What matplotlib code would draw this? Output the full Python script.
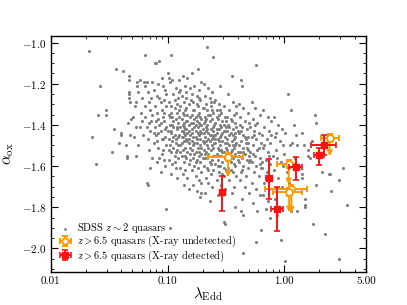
import numpy as np
import matplotlib
matplotlib.use("Agg")
import matplotlib.pyplot as plt
from matplotlib.ticker import FixedLocator, FuncFormatter, LogLocator, MultipleLocator, NullFormatter

plt.rcParams['font.family'] = 'serif'
plt.rcParams['font.serif'] = ['cmr10']
plt.rcParams['mathtext.fontset'] = 'cm'
plt.rcParams['axes.formatter.use_mathtext'] = True

# SDSS z~2 quasars: (log10 lambda_Edd, alpha_ox)
sdss_points = [
    (-1.67, -1.04), (-1.65, -1.46), (-1.61, -1.59), (-1.60, -1.35), (-1.58, -1.21), (-1.53, -1.33),
    (-1.53, -1.35), (-1.48, -1.53), (-1.46, -1.42), (-1.44, -1.13), (-1.42, -1.49), (-1.40, -1.44),
    (-1.40, -1.45), (-1.35, -1.56),
    (-1.38, -1.14), (-1.33, -1.16), (-1.33, -1.18), (-1.33, -1.24), (-1.33, -1.25), (-1.33, -1.27),
    (-1.34, -1.39), (-1.36, -1.50), (-1.35, -1.55), (-1.31, -1.37), (-1.32, -1.29), (-1.32, -1.45),
    (-1.30, -1.36),
    (-1.28, -1.31), (-1.27, -1.29), (-1.25, -1.24), (-1.26, -1.21), (-1.24, -1.18), (-1.27, -1.41),
    (-1.25, -1.50), (-1.27, -1.55), (-1.24, -1.41), (-1.23, -1.34), (-1.29, -1.46), (-1.22, -1.38),
    (-1.21, -1.45), (-1.26, -1.19), (-1.22, -1.27),
    (-1.19, -1.06), (-1.20, -1.19), (-1.19, -1.21), (-1.18, -1.19), (-1.17, -1.24), (-1.16, -1.29),
    (-1.15, -1.33), (-1.19, -1.36), (-1.18, -1.41), (-1.14, -1.38), (-1.13, -1.19), (-1.12, -1.44),
    (-1.17, -1.47), (-1.11, -1.31), (-1.16, -1.52), (-1.13, -1.56), (-1.18, -1.68), (-1.17, -1.69),
    (-1.15, -1.43), (-1.14, -1.27), (-1.12, -1.49), (-1.11, -1.10), (-1.19, -1.31), (-1.16, -1.39),
    (-1.13, -1.35), (-1.11, -1.41), (-1.15, -1.61), (-1.12, -1.23),
    (-1.10, -1.10), (-1.08, -1.20), (-1.07, -1.09), (-1.04, -1.21), (-1.09, -1.26), (-1.06, -1.29),
    (-1.02, -1.23), (-1.09, -1.34), (-1.08, -1.37), (-1.07, -1.40), (-1.05, -1.33), (-1.03, -1.38),
    (-1.01, -1.31), (-1.10, -1.45), (-1.06, -1.43), (-1.04, -1.47), (-1.02, -1.42), (-1.08, -1.51),
    (-1.05, -1.54), (-1.01, -1.50), (-1.09, -1.58), (-1.03, -1.57), (-1.06, -1.63), (-1.01, -1.81),
    (-1.07, -1.27), (-1.04, -1.36), (-1.01, -1.41), (-1.03, -1.28), (-1.05, -1.17), (-1.08, -1.44),
    (-1.02, -1.46), (-1.06, -1.39), (-1.04, -1.52), (-1.09, -1.48), (-1.01, -1.25), (-1.07, -1.56),
    (-1.03, -1.34), (-1.05, -1.47), (-1.10, -1.38), (-1.02, -1.60),
    (-0.97, -1.06), (-1.00, -1.15), (-0.99, -1.17), (-0.96, -1.18), (-0.98, -1.19), (-0.93, -1.22),
    (-0.95, -1.25), (-0.91, -1.27), (-0.99, -1.29), (-0.97, -1.31), (-0.94, -1.32), (-0.92, -1.34),
    (-0.99, -1.35), (-0.96, -1.36), (-0.93, -1.37), (-0.91, -1.39), (-0.98, -1.40), (-0.95, -1.41),
    (-0.92, -1.42), (-1.00, -1.43), (-0.97, -1.44), (-0.94, -1.45), (-0.91, -1.46), (-0.99, -1.47),
    (-0.96, -1.48), (-0.93, -1.49), (-0.98, -1.50), (-0.95, -1.51), (-0.92, -1.52), (-0.97, -1.53),
    (-0.94, -1.55), (-0.91, -1.56), (-0.99, -1.57), (-0.96, -1.59), (-0.93, -1.61), (-0.97, -1.64),
    (-0.92, -1.66), (-0.98, -1.90), (-0.94, -1.28), (-0.90, -1.33), (-0.95, -1.38), (-0.92, -1.41),
    (-0.97, -1.43), (-0.90, -1.45), (-0.93, -1.47), (-0.98, -1.36), (-0.96, -1.40), (-0.91, -1.50),
    (-0.95, -1.46), (-0.93, -1.53), (-0.99, -1.52), (-0.90, -1.24), (-0.94, -1.58), (-0.97, -1.34),
    (-0.92, -1.30),
    (-0.90, -1.18), (-0.87, -1.16), (-0.83, -1.17), (-0.85, -1.21), (-0.89, -1.23), (-0.81, -1.22),
    (-0.88, -1.26), (-0.84, -1.27), (-0.86, -1.29), (-0.82, -1.30), (-0.89, -1.31), (-0.85, -1.33),
    (-0.87, -1.34), (-0.83, -1.35), (-0.81, -1.36), (-0.88, -1.37), (-0.84, -1.38), (-0.86, -1.39),
    (-0.82, -1.40), (-0.89, -1.41), (-0.85, -1.42), (-0.87, -1.43), (-0.83, -1.44), (-0.81, -1.45),
    (-0.88, -1.46), (-0.84, -1.47), (-0.86, -1.48), (-0.82, -1.49), (-0.89, -1.50), (-0.85, -1.51),
    (-0.87, -1.52), (-0.83, -1.53), (-0.81, -1.54), (-0.88, -1.55), (-0.84, -1.56), (-0.86, -1.58),
    (-0.82, -1.59), (-0.89, -1.61), (-0.85, -1.62), (-0.87, -1.64), (-0.83, -1.66), (-0.86, -1.69),
    (-0.82, -1.71), (-0.90, -1.36), (-0.86, -1.35), (-0.84, -1.42), (-0.80, -1.39), (-0.87, -1.46),
    (-0.83, -1.48), (-0.81, -1.51), (-0.88, -1.43), (-0.85, -1.45), (-0.82, -1.43), (-0.89, -1.53),
    (-0.86, -1.41), (-0.84, -1.32), (-0.80, -1.28), (-0.87, -1.40), (-0.83, -1.38), (-0.85, -1.55),
    (-0.81, -1.57), (-0.88, -1.49), (-0.84, -1.24), (-0.82, -1.47), (-0.86, -1.44),
    (-0.79, -1.15), (-0.74, -1.13), (-0.71, -1.19), (-0.77, -1.21), (-0.73, -1.23), (-0.79, -1.25),
    (-0.75, -1.26), (-0.72, -1.28), (-0.78, -1.29), (-0.74, -1.31), (-0.70, -1.32), (-0.77, -1.33),
    (-0.73, -1.34), (-0.79, -1.35), (-0.76, -1.36), (-0.71, -1.37), (-0.75, -1.38), (-0.78, -1.39),
    (-0.72, -1.40), (-0.74, -1.41), (-0.79, -1.42), (-0.76, -1.43), (-0.71, -1.44), (-0.73, -1.45),
    (-0.78, -1.46), (-0.75, -1.47), (-0.70, -1.48), (-0.77, -1.49), (-0.72, -1.50), (-0.74, -1.51),
    (-0.79, -1.52), (-0.76, -1.53), (-0.71, -1.54), (-0.73, -1.55), (-0.78, -1.56), (-0.75, -1.57),
    (-0.72, -1.58), (-0.77, -1.60), (-0.74, -1.61), (-0.79, -1.62), (-0.71, -1.63), (-0.76, -1.65),
    (-0.73, -1.67), (-0.78, -1.69), (-0.75, -1.72), (-0.72, -1.75), (-0.77, -1.41), (-0.73, -1.39),
    (-0.70, -1.42), (-0.76, -1.46), (-0.72, -1.47), (-0.79, -1.44), (-0.75, -1.49), (-0.71, -1.51),
    (-0.77, -1.37), (-0.74, -1.35), (-0.78, -1.50), (-0.73, -1.53), (-0.70, -1.56), (-0.76, -1.58),
    (-0.72, -1.43), (-0.79, -1.48), (-0.74, -1.44), (-0.71, -1.40), (-0.77, -1.54), (-0.75, -1.30),
    (-0.73, -1.27), (-0.78, -1.33), (-0.72, -1.36), (-0.76, -1.40), (-0.71, -1.68), (-0.71, -1.73),
    (-0.66, -1.02), (-0.61, -1.07), (-0.69, -1.20), (-0.65, -1.22), (-0.62, -1.24), (-0.68, -1.26),
    (-0.64, -1.27), (-0.60, -1.29), (-0.67, -1.30), (-0.63, -1.31), (-0.69, -1.32), (-0.66, -1.33),
    (-0.61, -1.34), (-0.65, -1.35), (-0.68, -1.36), (-0.62, -1.37), (-0.64, -1.38), (-0.69, -1.39),
    (-0.66, -1.40), (-0.61, -1.41), (-0.63, -1.42), (-0.67, -1.43), (-0.65, -1.44), (-0.60, -1.45),
    (-0.68, -1.46), (-0.62, -1.47), (-0.64, -1.48), (-0.69, -1.49), (-0.66, -1.50), (-0.61, -1.51),
    (-0.63, -1.52), (-0.67, -1.53), (-0.65, -1.54), (-0.60, -1.55), (-0.68, -1.56), (-0.62, -1.57),
    (-0.64, -1.58), (-0.69, -1.60), (-0.66, -1.61), (-0.61, -1.62), (-0.63, -1.64), (-0.67, -1.66),
    (-0.65, -1.68), (-0.62, -1.70), (-0.68, -1.73), (-0.64, -1.77), (-0.67, -1.41), (-0.63, -1.45),
    (-0.69, -1.52), (-0.65, -1.47), (-0.61, -1.43), (-0.66, -1.56), (-0.62, -1.50), (-0.68, -1.38),
    (-0.64, -1.35), (-0.60, -1.40), (-0.67, -1.48), (-0.63, -1.59), (-0.69, -1.44), (-0.65, -1.51),
    (-0.61, -1.46), (-0.66, -1.42), (-0.62, -1.33), (-0.68, -1.54), (-0.64, -1.45), (-0.60, -1.49),
    (-0.67, -1.37), (-0.63, -1.29), (-0.65, -1.62), (-0.61, -1.55),
    (-0.55, -1.21), (-0.59, -1.28), (-0.56, -1.30), (-0.52, -1.31), (-0.58, -1.33), (-0.54, -1.34),
    (-0.51, -1.36), (-0.57, -1.37), (-0.53, -1.38), (-0.59, -1.39), (-0.55, -1.40), (-0.50, -1.41),
    (-0.56, -1.42), (-0.52, -1.43), (-0.58, -1.44), (-0.54, -1.45), (-0.51, -1.46), (-0.57, -1.47),
    (-0.53, -1.48), (-0.59, -1.49), (-0.55, -1.50), (-0.50, -1.51), (-0.56, -1.52), (-0.52, -1.53),
    (-0.58, -1.54), (-0.54, -1.55), (-0.51, -1.56), (-0.57, -1.57), (-0.53, -1.58), (-0.59, -1.59),
    (-0.55, -1.60), (-0.50, -1.62), (-0.56, -1.63), (-0.52, -1.65), (-0.58, -1.67), (-0.54, -1.69),
    (-0.51, -1.71), (-0.57, -1.74), (-0.52, -1.87), (-0.51, -1.88), (-0.58, -1.42), (-0.55, -1.46),
    (-0.51, -1.49), (-0.57, -1.51), (-0.53, -1.44), (-0.59, -1.47), (-0.56, -1.55), (-0.52, -1.40),
    (-0.54, -1.52), (-0.50, -1.57), (-0.58, -1.36), (-0.55, -1.33), (-0.51, -1.43), (-0.57, -1.60),
    (-0.53, -1.53), (-0.56, -1.48), (-0.52, -1.61), (-0.59, -1.45), (-0.54, -1.41), (-0.50, -1.38),
    (-0.56, -1.35), (-0.53, -1.64),
    (-0.45, -1.16), (-0.48, -1.25), (-0.44, -1.29), (-0.41, -1.31), (-0.47, -1.33), (-0.43, -1.35),
    (-0.49, -1.36), (-0.45, -1.38), (-0.42, -1.39), (-0.48, -1.40), (-0.44, -1.42), (-0.40, -1.43),
    (-0.46, -1.44), (-0.42, -1.46), (-0.49, -1.47), (-0.45, -1.48), (-0.41, -1.49), (-0.47, -1.50),
    (-0.43, -1.51), (-0.49, -1.52), (-0.46, -1.53), (-0.42, -1.54), (-0.48, -1.55), (-0.44, -1.56),
    (-0.40, -1.57), (-0.46, -1.58), (-0.42, -1.60), (-0.48, -1.61), (-0.44, -1.63), (-0.41, -1.65),
    (-0.47, -1.67), (-0.43, -1.70), (-0.45, -1.73), (-0.42, -1.80), (-0.47, -1.45), (-0.43, -1.47),
    (-0.49, -1.43), (-0.45, -1.52), (-0.41, -1.41), (-0.46, -1.37), (-0.42, -1.50), (-0.48, -1.57),
    (-0.44, -1.45), (-0.40, -1.53), (-0.47, -1.41), (-0.43, -1.59), (-0.49, -1.49), (-0.45, -1.55),
    (-0.41, -1.34), (-0.46, -1.62), (-0.42, -1.44), (-0.44, -1.50),
    (-0.37, -1.18), (-0.36, -1.21), (-0.39, -1.30), (-0.35, -1.32), (-0.31, -1.34), (-0.38, -1.36),
    (-0.34, -1.38), (-0.30, -1.39), (-0.36, -1.41), (-0.32, -1.42), (-0.39, -1.44), (-0.35, -1.45),
    (-0.31, -1.46), (-0.37, -1.48), (-0.33, -1.49), (-0.39, -1.50), (-0.35, -1.51), (-0.31, -1.52),
    (-0.38, -1.53), (-0.34, -1.54), (-0.30, -1.55), (-0.36, -1.56), (-0.32, -1.57), (-0.39, -1.58),
    (-0.35, -1.60), (-0.31, -1.61), (-0.37, -1.63), (-0.33, -1.65), (-0.38, -1.67), (-0.34, -1.70),
    (-0.30, -1.73), (-0.36, -1.76), (-0.35, -1.84), (-0.37, -1.82), (-0.35, -2.02), (-0.33, -1.47),
    (-0.37, -1.43), (-0.31, -1.49), (-0.35, -1.53), (-0.38, -1.40), (-0.34, -1.46), (-0.30, -1.58),
    (-0.36, -1.62), (-0.32, -1.51), (-0.39, -1.55),
    (-0.24, -1.11), (-0.28, -1.29), (-0.25, -1.32), (-0.21, -1.35), (-0.27, -1.37), (-0.23, -1.39),
    (-0.29, -1.41), (-0.26, -1.43), (-0.22, -1.44), (-0.28, -1.46), (-0.24, -1.47), (-0.20, -1.49),
    (-0.27, -1.50), (-0.23, -1.52), (-0.29, -1.53), (-0.25, -1.55), (-0.21, -1.56), (-0.28, -1.58),
    (-0.24, -1.60), (-0.20, -1.61), (-0.26, -1.63), (-0.22, -1.65), (-0.28, -1.68), (-0.24, -1.71),
    (-0.21, -1.74), (-0.27, -1.78), (-0.23, -1.82), (-0.20, -1.91), (-0.24, -1.97), (-0.26, -1.45),
    (-0.22, -1.51), (-0.29, -1.57), (-0.25, -1.40), (-0.21, -1.59), (-0.27, -1.54),
    (-0.18, -1.33), (-0.14, -1.36), (-0.11, -1.38), (-0.17, -1.41), (-0.13, -1.43), (-0.19, -1.45),
    (-0.15, -1.47), (-0.12, -1.49), (-0.18, -1.51), (-0.14, -1.53), (-0.10, -1.55), (-0.16, -1.57),
    (-0.12, -1.59), (-0.19, -1.61), (-0.15, -1.63), (-0.11, -1.65), (-0.17, -1.68), (-0.13, -1.71),
    (-0.18, -1.74), (-0.14, -1.77), (-0.16, -1.81), (-0.12, -1.85), (-0.17, -1.50), (-0.13, -1.55),
    (-0.19, -1.58), (-0.11, -1.45), (-0.15, -1.66),
    (-0.09, -1.36), (-0.05, -1.40), (-0.02, -1.42), (-0.08, -1.46), (-0.04, -1.48), (-0.07, -1.52),
    (-0.01, -1.50), (-0.06, -1.56), (-0.03, -1.58), (-0.09, -1.62), (-0.05, -1.66), (-0.02, -1.70),
    (-0.08, -1.76), (-0.04, -1.80), (-0.06, -1.84), (-0.03, -1.96), (-0.07, -1.44), (-0.01, -1.60),
    (0.03, -1.25), (0.06, -1.33), (0.08, -1.40), (0.07, -1.49), (0.01, -1.44), (0.05, -1.50),
    (0.09, -1.56), (0.02, -1.63), (0.06, -1.82), (0.01, -2.06), (0.04, -1.68), (0.00, -1.54),
    (0.15, -1.44), (0.10, -1.45), (0.11, -1.50), (0.20, -1.52), (0.17, -1.50), (0.20, -1.55),
    (0.15, -1.64), (0.15, -1.66), (0.18, -1.76), (0.18, -1.79), (0.18, -1.80), (0.25, -1.88),
    (0.27, -1.69), (0.32, -1.63), (0.38, -1.64), (0.39, -1.64), (0.40, -1.72), (0.35, -1.93),
    (0.47, -1.67), (0.50, -1.61), (0.47, -2.05), (0.54, -1.79), (0.26, -1.35), (0.27, -1.39),
    (0.24, -1.48), (0.22, -1.56), (0.11, -1.82),
]
sdss_log_edd = np.array([p[0] for p in sdss_points])
sdss_aox = np.array([p[1] for p in sdss_points])

# z > 6.5 quasars, X-ray undetected (upper limits on alpha_ox)
undet_edd = np.array([0.33, 1.09, 1.15, 1.10, 2.45])
undet_edd_lo = np.array([0.22, 0.87, 0.68, 0.80, 2.06])
undet_edd_hi = np.array([0.445, 1.25, 1.56, 1.42, 2.93])
undet_aox = np.array([-1.555, -1.59, -1.713, -1.725, -1.462])
undet_limit_len = np.array([0.10, 0.10, 0.115, 0.10, 0.09])

# z > 6.5 quasars, X-ray detected
det_edd = np.array([0.29, 0.736, 0.867, 1.25, 1.97, 2.19])
det_edd_lo = np.array([0.29, 0.69, 0.767, 1.10, 1.80, 1.69])
det_edd_hi = np.array([0.29, 0.79, 0.98, 1.43, 2.17, 2.79])
det_aox = np.array([-1.725, -1.657, -1.809, -1.606, -1.546, -1.497])
det_aox_lo = np.array([-1.817, -1.760, -1.916, -1.668, -1.595, -1.546])
det_aox_hi = np.array([-1.647, -1.567, -1.700, -1.557, -1.514, -1.449])

orange = '#ff9900'
red = '#ff1010'

fig = plt.figure(figsize=(4.07, 3.05), dpi=100)
ax = fig.add_axes([0.125, 0.108, 0.774, 0.774])

ax.scatter(10 ** sdss_log_edd, sdss_aox, s=5, color='#808080', lw=0, zorder=1,
           label=r'SDSS $z\sim2$ quasars')

# upper-limit arrows
for x, y, l in zip(undet_edd, undet_aox, undet_limit_len):
    ax.annotate('', xy=(x, y - l), xytext=(x, y),
                arrowprops=dict(arrowstyle='-|>', color=orange, lw=1.4,
                                mutation_scale=7, shrinkA=0, shrinkB=0), zorder=3)

ax.errorbar(undet_edd, undet_aox,
            xerr=[undet_edd - undet_edd_lo, undet_edd_hi - undet_edd],
            yerr=[np.full(5, 0.02), np.full(5, 0.02)],
            fmt='o', ms=5, mfc='white', mec=orange, mew=1.4, color=orange,
            ecolor=orange, elinewidth=1.4, capsize=2.5, capthick=1.2, zorder=4,
            label=r'$z>6.5$ quasars (X-ray undetected)')

ax.errorbar(det_edd, det_aox,
            xerr=[det_edd - det_edd_lo, det_edd_hi - det_edd],
            yerr=[det_aox - det_aox_lo, det_aox_hi - det_aox],
            fmt='s', ms=5, color=red, ecolor=red, elinewidth=1.4,
            capsize=2.5, capthick=1.2, zorder=5,
            label=r'$z>6.5$ quasars (X-ray detected)')

ax.set_xscale('log')
ax.set_xlim(0.01, 5.0)
ax.set_ylim(-2.115, -0.968)

ax.xaxis.set_major_locator(FixedLocator([0.01, 0.1, 1.0, 5.0]))
ax.xaxis.set_major_formatter(FuncFormatter(lambda v, p: '%.2f' % v))
ax.xaxis.set_minor_locator(LogLocator(base=10, subs=np.arange(2, 10), numticks=20))
ax.xaxis.set_minor_formatter(NullFormatter())
ax.yaxis.set_major_locator(MultipleLocator(0.2))
ax.yaxis.set_minor_locator(MultipleLocator(0.05))

ax.tick_params(which='both', direction='in', top=True, right=True, labelsize=8)
ax.tick_params(which='major', length=5, width=0.8)
ax.tick_params(which='minor', length=2.5, width=0.6)
for s in ax.spines.values():
    s.set_linewidth(1.0)

ax.set_xlabel(r'$\lambda_{\rm Edd}$', fontsize=11, labelpad=-1)
ax.set_ylabel(r'$\alpha_{\rm ox}$', fontsize=11, labelpad=4)

ax.legend(loc='lower left', frameon=False, fontsize=7.5, handlelength=1.2,
          handleheight=0.5, handletextpad=0.5, labelspacing=-0.1,
          borderaxespad=0.3, borderpad=0.5, markerscale=0.9)

fig.savefig('out.png', dpi=100)
